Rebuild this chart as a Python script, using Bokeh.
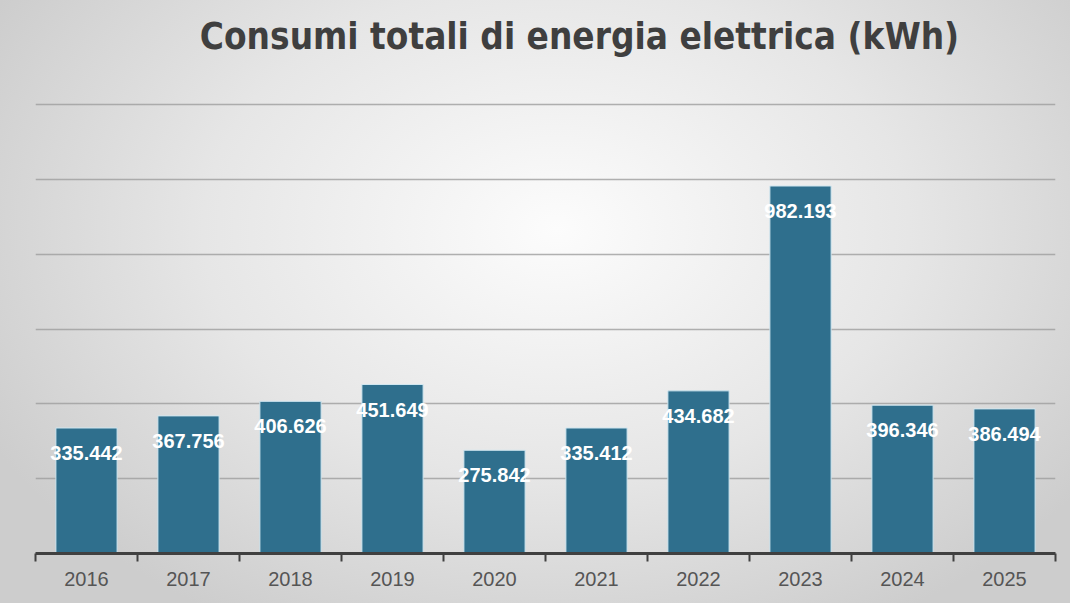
from bokeh.plotting import figure
from bokeh.models import ColumnDataSource, FixedTicker, Range1d, Label
from bokeh.core.properties import value
from bokeh.embed import file_html
from bokeh.resources import INLINE

years = ["2016", "2017", "2018", "2019", "2020", "2021", "2022", "2023", "2024", "2025"]
consumi = [335.442, 367.756, 406.626, 451.649, 275.842, 335.412, 434.682, 982.193, 396.346, 386.494]
etichette = ["335.442", "367.756", "406.626", "451.649", "275.842", "335.412", "434.682", "982.193", "396.346", "386.494"]
grid_values = [200, 400, 600, 800, 1000, 1200]
titolo = "Consumi totali di energia elettrica (kWh)"

xpos = [i + 0.5 for i in range(len(years))]
src = ColumnDataSource(dict(x=xpos, y=consumi, lab=etichette))

p = figure(width=1070, height=603, output_backend="svg", toolbar_location=None,
           x_range=Range1d(0, len(years)), y_range=Range1d(0, 1478),
           min_border_left=35, min_border_right=15, min_border_top=0, min_border_bottom=50)
p.background_fill_color = None
p.border_fill_color = None
p.outline_line_color = None
p.styles = {"background": "radial-gradient(ellipse 60% 75% at 52% 38%, #fcfcfc 0%, #e6e6e6 55%, #cdcdcd 100%)"}

p.vbar(x="x", top="y", width=0.6, bottom=0, source=src, fill_color="#2f6f8d",
       line_color="#cfe6f0", line_width=1)
p.text(x="x", y="y", text="lab", source=src, y_offset=25, text_align="center",
       text_baseline="middle", text_color="white", text_font=value("Liberation Sans"),
       text_font_style="bold", text_font_size="20px")

p.yaxis.visible = False
p.ygrid.ticker = FixedTicker(ticks=grid_values)
p.ygrid.grid_line_color = "#9e9e9e"
p.ygrid.grid_line_width = 1.5
p.ygrid.grid_line_alpha = 0.8
p.xgrid.visible = False

ax = p.xaxis[0]
ax.ticker = FixedTicker(ticks=xpos, minor_ticks=list(range(len(years) + 1)))
ax.major_label_overrides = {x: y for x, y in zip(xpos, years)}
ax.major_tick_line_color = None
ax.major_tick_out = 0
ax.major_tick_in = 0
ax.minor_tick_out = 8
ax.minor_tick_in = 0
ax.minor_tick_line_color = "#404040"
ax.minor_tick_line_width = 2
ax.axis_line_color = "#404040"
ax.axis_line_width = 3
ax.major_label_text_font = "Liberation Sans"
ax.major_label_text_font_size = "20px"
ax.major_label_text_color = "#555555"
ax.major_label_standoff = 10

p.add_layout(Label(x=544, y=517, x_units="screen", y_units="screen", text=titolo,
                   text_align="center", text_baseline="middle",
                   text_font="DejaVu Sans Condensed, Roboto, sans-serif", text_font_style="bold",
                   text_font_size="36.6px", text_color="#3f3f3f"))

open("out.html", "w").write(file_html(p, INLINE))
